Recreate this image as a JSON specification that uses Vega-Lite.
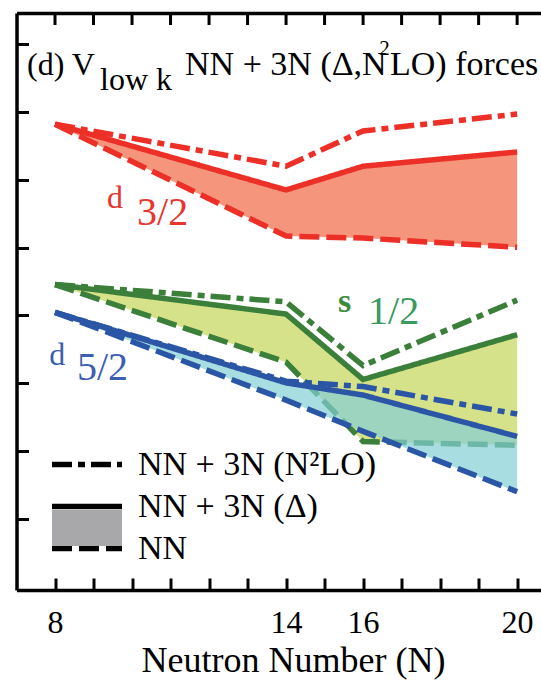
{
  "$schema": "https://vega.github.io/schema/vega-lite/v6.json",
  "width": 524.5,
  "height": 577,
  "autosize": {"type": "none"},
  "padding": {"left": 16.5, "top": 13, "right": 0, "bottom": 90},
  "background": "white",
  "config": {"view": {"stroke": null}, "font": "Liberation Serif"},
  "resolve": {"axis": {"x": "independent"}, "scale": {"fill": "independent", "stroke": "independent"}, "legend": {"stroke": "independent"}},
  "datasets": {
    "levels": [
      {"orbital": "d32", "model": "N2LO", "N": 8, "E": 1.64},
      {"orbital": "d32", "model": "N2LO", "N": 14, "E": 0.40},
      {"orbital": "d32", "model": "N2LO", "N": 16, "E": 1.44},
      {"orbital": "d32", "model": "N2LO", "N": 20, "E": 1.94},
      {"orbital": "d32", "model": "D", "N": 8, "E": 1.64},
      {"orbital": "d32", "model": "D", "N": 14, "E": -0.30},
      {"orbital": "d32", "model": "D", "N": 16, "E": 0.40},
      {"orbital": "d32", "model": "D", "N": 20, "E": 0.82},
      {"orbital": "d32", "model": "NN", "N": 8, "E": 1.64},
      {"orbital": "d32", "model": "NN", "N": 14, "E": -1.66},
      {"orbital": "d32", "model": "NN", "N": 16, "E": -1.72},
      {"orbital": "d32", "model": "NN", "N": 20, "E": -1.99},
      {"orbital": "s12", "model": "N2LO", "N": 8, "E": -3.09},
      {"orbital": "s12", "model": "N2LO", "N": 14, "E": -3.60},
      {"orbital": "s12", "model": "N2LO", "N": 16, "E": -5.48},
      {"orbital": "s12", "model": "N2LO", "N": 20, "E": -3.55},
      {"orbital": "s12", "model": "D", "N": 8, "E": -3.09},
      {"orbital": "s12", "model": "D", "N": 14, "E": -3.96},
      {"orbital": "s12", "model": "D", "N": 16, "E": -5.89},
      {"orbital": "s12", "model": "D", "N": 20, "E": -4.57},
      {"orbital": "s12", "model": "NN", "N": 8, "E": -3.09},
      {"orbital": "s12", "model": "NN", "N": 14, "E": -5.38},
      {"orbital": "s12", "model": "NN", "N": 16, "E": -7.72},
      {"orbital": "s12", "model": "NN", "N": 20, "E": -7.83},
      {"orbital": "d52", "model": "N2LO", "N": 8, "E": -3.91},
      {"orbital": "d52", "model": "N2LO", "N": 14, "E": -5.94},
      {"orbital": "d52", "model": "N2LO", "N": 16, "E": -6.10},
      {"orbital": "d52", "model": "N2LO", "N": 20, "E": -6.91},
      {"orbital": "d52", "model": "D", "N": 8, "E": -3.91},
      {"orbital": "d52", "model": "D", "N": 14, "E": -5.99},
      {"orbital": "d52", "model": "D", "N": 16, "E": -6.35},
      {"orbital": "d52", "model": "D", "N": 20, "E": -7.57},
      {"orbital": "d52", "model": "NN", "N": 8, "E": -3.91},
      {"orbital": "d52", "model": "NN", "N": 14, "E": -6.50},
      {"orbital": "d52", "model": "NN", "N": 16, "E": -7.42},
      {"orbital": "d52", "model": "NN", "N": 20, "E": -9.20}
    ],
    "topticks": [
      {"N": 8}, {"N": 9}, {"N": 10}, {"N": 11}, {"N": 12}, {"N": 13}, {"N": 14},
      {"N": 15}, {"N": 16}, {"N": 17}, {"N": 18}, {"N": 19}, {"N": 20}
    ],
    "labels": [
      {"g": "title", "t": "(d) V", "N": 7.273, "E": 3.088},
      {"g": "title", "t": "low k", "N": 9.169, "E": 2.646},
      {"g": "title2", "t": "NN + 3N (Δ,N", "N": 11.377, "E": 3.088},
      {"g": "sup", "t": "2", "N": 16.42, "E": 3.678},
      {"g": "title2", "t": "LO) forces", "N": 16.70, "E": 3.088},
      {"g": "dred", "t": "d", "N": 9.35, "E": -0.841},
      {"g": "fred", "t": "3/2", "N": 10.130, "E": -1.336},
      {"g": "sgreen", "t": "s", "N": 15.351, "E": -3.903},
      {"g": "fgreen", "t": "1/2", "N": 16.130, "E": -4.257},
      {"g": "dblue", "t": "d", "N": 7.85, "E": -5.463},
      {"g": "fblue", "t": "5/2", "N": 8.571, "E": -5.906}
    ]
  },
  "layer": [
    {
      "data": {"name": "levels"},
      "transform": [
        {"filter": "datum.orbital != 'd52' && datum.model != 'N2LO'"},
        {"pivot": "model", "value": "E", "groupby": ["orbital", "N"]}
      ],
      "mark": {"type": "area"},
      "encoding": {
        "x": {
          "field": "N", "type": "quantitative",
          "scale": {"domain": [7, 20.62], "nice": false, "zero": false},
          "axis": {
            "orient": "top",
            "labels": false, "ticks": false, "domain": true,
            "domainColor": "black", "domainWidth": 3.5, "grid": false, "title": null
          }
        },
        "y": {
          "field": "NN", "type": "quantitative",
          "scale": {"domain": [-12.1, 4.92], "nice": false, "zero": false},
          "axis": {
            "orient": "left",
            "values": [-10, -8, -6, -4, -2, 0, 2, 4],
            "labels": false, "tickSize": -12, "tickWidth": 3, "tickColor": "black",
            "domainColor": "black", "domainWidth": 3.5, "grid": false, "title": null
          }
        },
        "y2": {"field": "D"},
        "fill": {
          "field": "orbital", "type": "nominal",
          "scale": {"domain": ["d32", "s12"], "range": ["#F5957C", "#D6E28A"]},
          "legend": null
        }
      }
    },
    {
      "data": {"name": "topticks"},
      "mark": {"type": "rule", "color": "black", "strokeWidth": 3},
      "encoding": {
        "x": {"field": "N", "type": "quantitative", "axis": null},
        "y": {"datum": 4.92},
        "y2": {"datum": 4.566}
      }
    },
    {
      "mark": {"type": "rule", "color": "black", "strokeWidth": 2.5, "strokeDash": [4, 4]},
      "encoding": {"y": {"datum": 0}}
    },
    {
      "data": {"name": "levels"},
      "transform": [{"filter": "datum.orbital != 'd52'"}],
      "mark": {"type": "line", "strokeWidth": 5.5},
      "encoding": {
        "x": {"field": "N", "type": "quantitative", "axis": null},
        "y": {"field": "E", "type": "quantitative"},
        "detail": {"field": "orbital"},
        "stroke": {
          "field": "orbital", "type": "nominal",
          "scale": {"domain": ["d32", "s12"], "range": ["#EC2F27", "#3B7F3A"]},
          "legend": null
        },
        "strokeDash": {
          "field": "model", "type": "nominal",
          "scale": {"domain": ["N2LO", "D", "NN"], "range": [[20, 6, 7, 6], [1, 0], [20, 7]]},
          "legend": {
            "orient": "none", "legendX": 53.5, "legendY": 434.5, "title": null, "padding": 0,
            "direction": "vertical",
            "symbolSize": 400, "symbolStrokeWidth": 5.5, "symbolStrokeColor": "black",
            "symbolType": "M-3.5,0H3.5",
            "labelFont": "Liberation Serif", "labelFontSize": 34, "labelColor": "black",
            "labelOffset": 34, "labelLimit": 0, "rowPadding": 8,
            "labelExpr": "datum.value == 'N2LO' ? 'NN + 3N (N²LO)' : datum.value == 'D' ? 'NN + 3N (Δ)' : 'NN'"
          }
        }
      }
    },
    {
      "data": {"name": "levels"},
      "transform": [
        {"filter": "datum.orbital == 'd52' && datum.model != 'N2LO'"},
        {"pivot": "model", "value": "E", "groupby": ["orbital", "N"]}
      ],
      "mark": {"type": "area", "opacity": 0.7},
      "encoding": {
        "x": {"field": "N", "type": "quantitative", "axis": null},
        "y": {"field": "NN", "type": "quantitative"},
        "y2": {"field": "D"},
        "fill": {
          "field": "orbital", "type": "nominal",
          "scale": {"domain": ["d52"], "range": ["#83CED6"]},
          "legend": null
        }
      }
    },
    {
      "data": {"name": "levels"},
      "transform": [{"filter": "datum.orbital == 'd52'"}],
      "mark": {"type": "line", "strokeWidth": 5.5},
      "encoding": {
        "x": {
          "field": "N", "type": "quantitative",
          "axis": {
            "orient": "bottom",
            "values": [8, 9, 10, 11, 12, 13, 14, 15, 16, 17, 18, 19, 20],
            "labelExpr": "datum.value == 8 || datum.value == 14 || datum.value == 16 || datum.value == 20 ? datum.label : ''",
            "ticks": true,
            "tickSize": -12, "tickWidth": 3, "tickColor": "black",
            "domainColor": "black", "domainWidth": 3.5,
            "labelFont": "Liberation Serif", "labelFontSize": 32, "labelColor": "black",
            "labelPadding": 29, "labelFlush": false, "labelOverlap": false,
            "grid": false,
            "title": "Neutron Number (N)",
            "titleFont": "Liberation Serif", "titleFontSize": 36, "titleFontWeight": "normal",
            "titleColor": "black", "titleX": 276.5, "titleY": 81, "titleBaseline": "alphabetic"
          }
        },
        "y": {"field": "E", "type": "quantitative"},
        "detail": {"field": "orbital"},
        "stroke": {
          "field": "orbital", "type": "nominal",
          "scale": {"domain": ["d52"], "range": ["#2B55A5"]},
          "legend": {
            "orient": "none", "legendX": 60.5, "legendY": 505, "title": null, "padding": 0,
            "symbolType": "M-3.5,-1.8H3.5V1.8H-3.5Z", "symbolSize": 400,
            "symbolFillColor": "#A8A8AA", "symbolStrokeWidth": 0,
            "symbolOpacity": 1, "labelExpr": "''", "labelFontSize": 10,
            "encode": {
              "symbols": {
                "update": {
                  "fill": {"value": "#A8A8AA"},
                  "fillOpacity": {"value": 1},
                  "strokeWidth": {"value": 0},
                  "opacity": {"value": 1}
                }
              }
            }
          }
        },
        "strokeDash": {"field": "model", "type": "nominal", "legend": null}
      }
    },
    {
      "data": {"name": "labels"},
      "transform": [{"filter": "datum.g == 'title'"}],
      "mark": {"type": "text", "align": "left", "baseline": "alphabetic", "font": "Liberation Serif", "fontSize": 32, "color": "black"},
      "encoding": {"x": {"field": "N", "type": "quantitative", "axis": null}, "y": {"field": "E", "type": "quantitative"}, "text": {"field": "t"}}
    },
    {
      "data": {"name": "labels"},
      "transform": [{"filter": "datum.g == 'title2'"}],
      "mark": {"type": "text", "align": "left", "baseline": "alphabetic", "font": "Liberation Serif", "fontSize": 34, "color": "black"},
      "encoding": {"x": {"field": "N", "type": "quantitative", "axis": null}, "y": {"field": "E", "type": "quantitative"}, "text": {"field": "t"}}
    },
    {
      "data": {"name": "labels"},
      "transform": [{"filter": "datum.g == 'sup'"}],
      "mark": {"type": "text", "align": "left", "baseline": "alphabetic", "font": "Liberation Serif", "fontSize": 21, "color": "black"},
      "encoding": {"x": {"field": "N", "type": "quantitative", "axis": null}, "y": {"field": "E", "type": "quantitative"}, "text": {"field": "t"}}
    },
    {
      "data": {"name": "labels"},
      "transform": [{"filter": "datum.g == 'dred'"}],
      "mark": {"type": "text", "align": "left", "baseline": "alphabetic", "font": "Liberation Serif", "fontSize": 32, "color": "#E8352D"},
      "encoding": {"x": {"field": "N", "type": "quantitative", "axis": null}, "y": {"field": "E", "type": "quantitative"}, "text": {"field": "t"}}
    },
    {
      "data": {"name": "labels"},
      "transform": [{"filter": "datum.g == 'fred'"}],
      "mark": {"type": "text", "align": "left", "baseline": "alphabetic", "font": "Liberation Serif", "fontSize": 40, "color": "#E8352D"},
      "encoding": {"x": {"field": "N", "type": "quantitative", "axis": null}, "y": {"field": "E", "type": "quantitative"}, "text": {"field": "t"}}
    },
    {
      "data": {"name": "labels"},
      "transform": [{"filter": "datum.g == 'sgreen'"}],
      "mark": {"type": "text", "align": "left", "baseline": "alphabetic", "font": "Liberation Serif", "fontSize": 34, "fontWeight": "bold", "color": "#3C8B3C"},
      "encoding": {"x": {"field": "N", "type": "quantitative", "axis": null}, "y": {"field": "E", "type": "quantitative"}, "text": {"field": "t"}}
    },
    {
      "data": {"name": "labels"},
      "transform": [{"filter": "datum.g == 'fgreen'"}],
      "mark": {"type": "text", "align": "left", "baseline": "alphabetic", "font": "Liberation Serif", "fontSize": 40, "color": "#3A9A60"},
      "encoding": {"x": {"field": "N", "type": "quantitative", "axis": null}, "y": {"field": "E", "type": "quantitative"}, "text": {"field": "t"}}
    },
    {
      "data": {"name": "labels"},
      "transform": [{"filter": "datum.g == 'dblue'"}],
      "mark": {"type": "text", "align": "left", "baseline": "alphabetic", "font": "Liberation Serif", "fontSize": 32, "color": "#3C5FAF"},
      "encoding": {"x": {"field": "N", "type": "quantitative", "axis": null}, "y": {"field": "E", "type": "quantitative"}, "text": {"field": "t"}}
    },
    {
      "data": {"name": "labels"},
      "transform": [{"filter": "datum.g == 'fblue'"}],
      "mark": {"type": "text", "align": "left", "baseline": "alphabetic", "font": "Liberation Serif", "fontSize": 40, "color": "#3C5FAF"},
      "encoding": {"x": {"field": "N", "type": "quantitative", "axis": null}, "y": {"field": "E", "type": "quantitative"}, "text": {"field": "t"}}
    }
  ]
}
